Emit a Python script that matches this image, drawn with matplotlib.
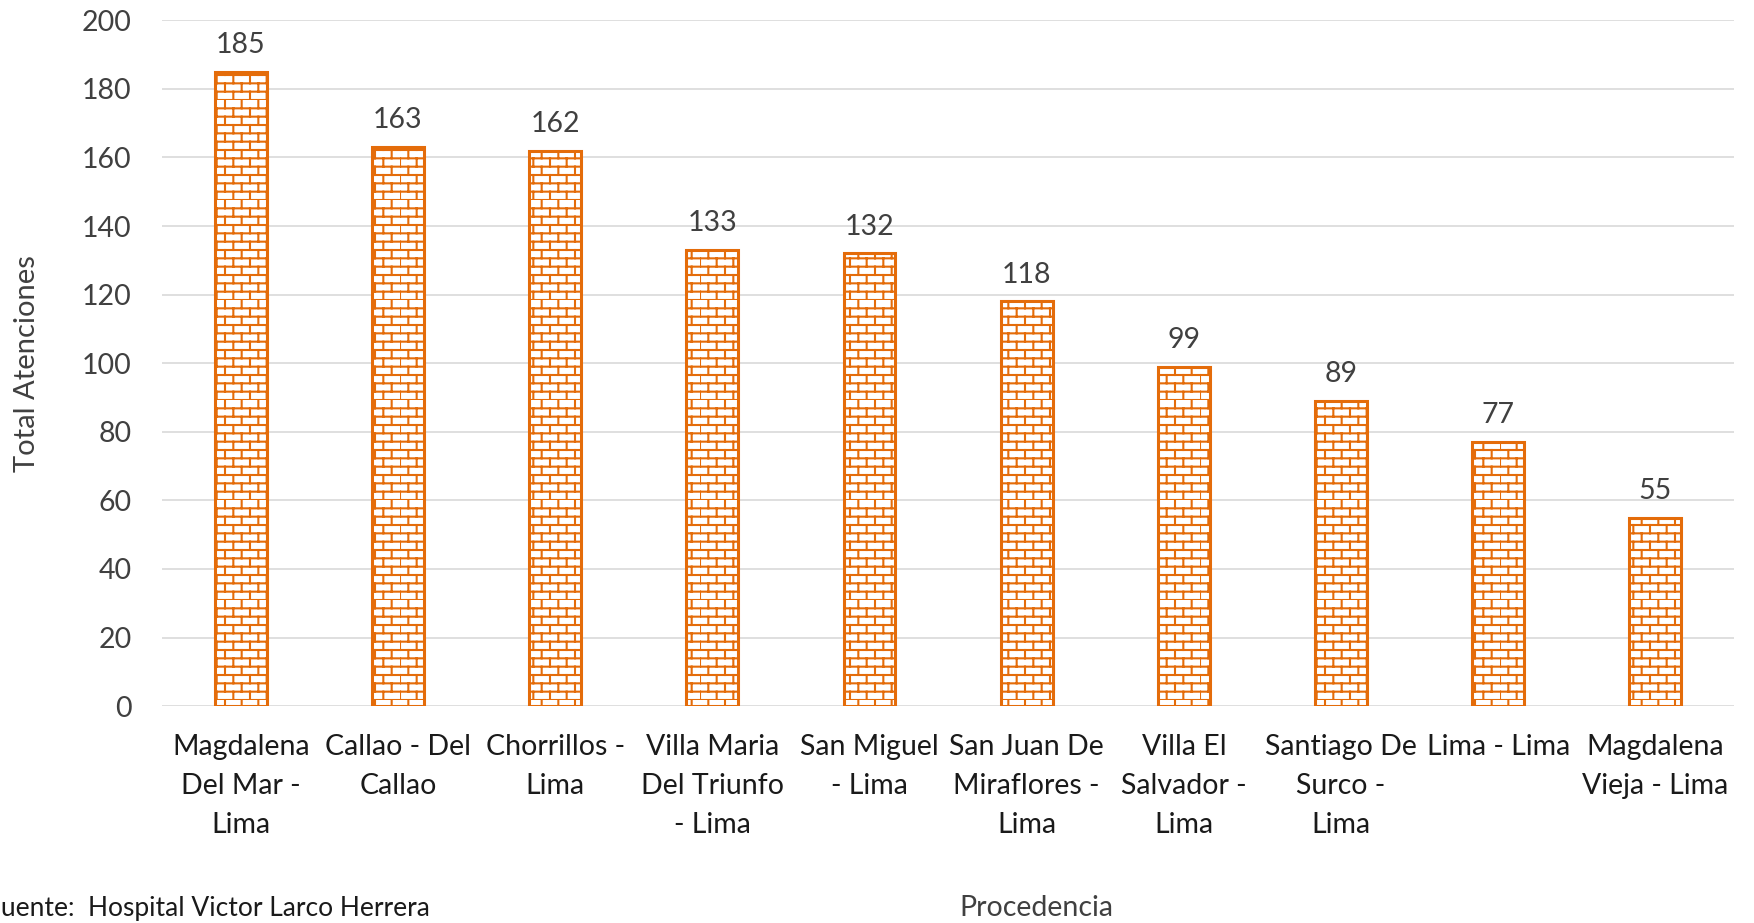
import warnings

import numpy as np
import matplotlib
matplotlib.use('Agg')
import matplotlib.pyplot as plt
import matplotlib.hatch as mhatch
from matplotlib.path import Path

warnings.filterwarnings('ignore')

categorias = ['Magdalena\nDel Mar -\nLima', 'Callao - Del\nCallao', 'Chorrillos -\nLima',
              'Villa Maria\nDel Triunfo\n- Lima', 'San Miguel\n- Lima',
              'San Juan De\nMiraflores -\nLima', 'Villa El\nSalvador -\nLima',
              'Santiago De\nSurco -\nLima', 'Lima - Lima', 'Magdalena\nVieja - Lima']
atenciones = [185, 163, 162, 133, 132, 118, 99, 89, 77, 55]
y_ticks = [0, 20, 40, 60, 80, 100, 120, 140, 160, 180, 200]

naranja = '#E46C0A'
gris = '#404040'


class BrickHatch(mhatch.HatchPatternBase):
    # ladrillo: filas horizontales con juntas verticales desplazadas
    rows = 12
    cols = 6

    def __init__(self, hatch, density):
        if 'b' in hatch:
            self.num_lines = self.rows + self.rows * self.cols
        else:
            self.num_lines = 0
        self.num_vertices = self.num_lines * 2

    def set_vertices_and_codes(self, vertices, codes):
        k = 0
        for i in range(self.rows):
            y0 = i / self.rows
            y1 = (i + 1) / self.rows
            vertices[k] = (0.0, y0)
            vertices[k + 1] = (1.0, y0)
            k += 2
            off = 0.5 * (i % 2)
            for j in range(self.cols):
                x = (j + off) / self.cols
                vertices[k] = (x, y0)
                vertices[k + 1] = (x, y1)
                k += 2
        codes[0::2] = Path.MOVETO
        codes[1::2] = Path.LINETO


mhatch._hatch_types.append(BrickHatch)

plt.rcParams['font.family'] = ['Lato', 'DejaVu Sans']
plt.rcParams['hatch.linewidth'] = 1.5

fig = plt.figure(figsize=(17.54, 9.23), dpi=100)
ax = fig.add_axes([0.0925, 0.235, 0.8961, 0.743])

x = np.arange(len(atenciones))
bars = ax.bar(x, atenciones, width=0.33, color='white', edgecolor=naranja,
              linewidth=2.2, hatch='b', zorder=3)

for xi, v in zip(x, atenciones):
    ax.annotate(str(v), (xi, v), xytext=(0, 10), textcoords='offset points',
                ha='center', va='bottom', fontsize=20.5, color=gris)

ax.set_xlim(-0.5, len(atenciones) - 0.5)
ax.set_ylim(0, 200)
ax.set_yticks(y_ticks)
ax.set_xticks(x)
ax.set_xticklabels(categorias, fontsize=20.5, color='#1a1a1a', linespacing=1.62)
ax.tick_params(axis='y', labelsize=20.5, labelcolor=gris, length=0, pad=22)
ax.tick_params(axis='x', length=0, pad=20)
ax.grid(axis='y', color='#D9D9D9', linewidth=1.2, zorder=0)
for s in ax.spines.values():
    s.set_visible(False)

ax.set_ylabel('Total Atenciones', fontsize=21, color=gris, labelpad=30)

fig.text(0.591, 0.002, 'Procedencia', fontsize=20.5, color=gris, ha='center', va='bottom')
fig.text(-0.008, 0.002, 'Fuente:  Hospital Victor Larco Herrera', fontsize=19,
         color='#1a1a1a', ha='left', va='bottom')

fig.savefig('out.png', dpi=100)
